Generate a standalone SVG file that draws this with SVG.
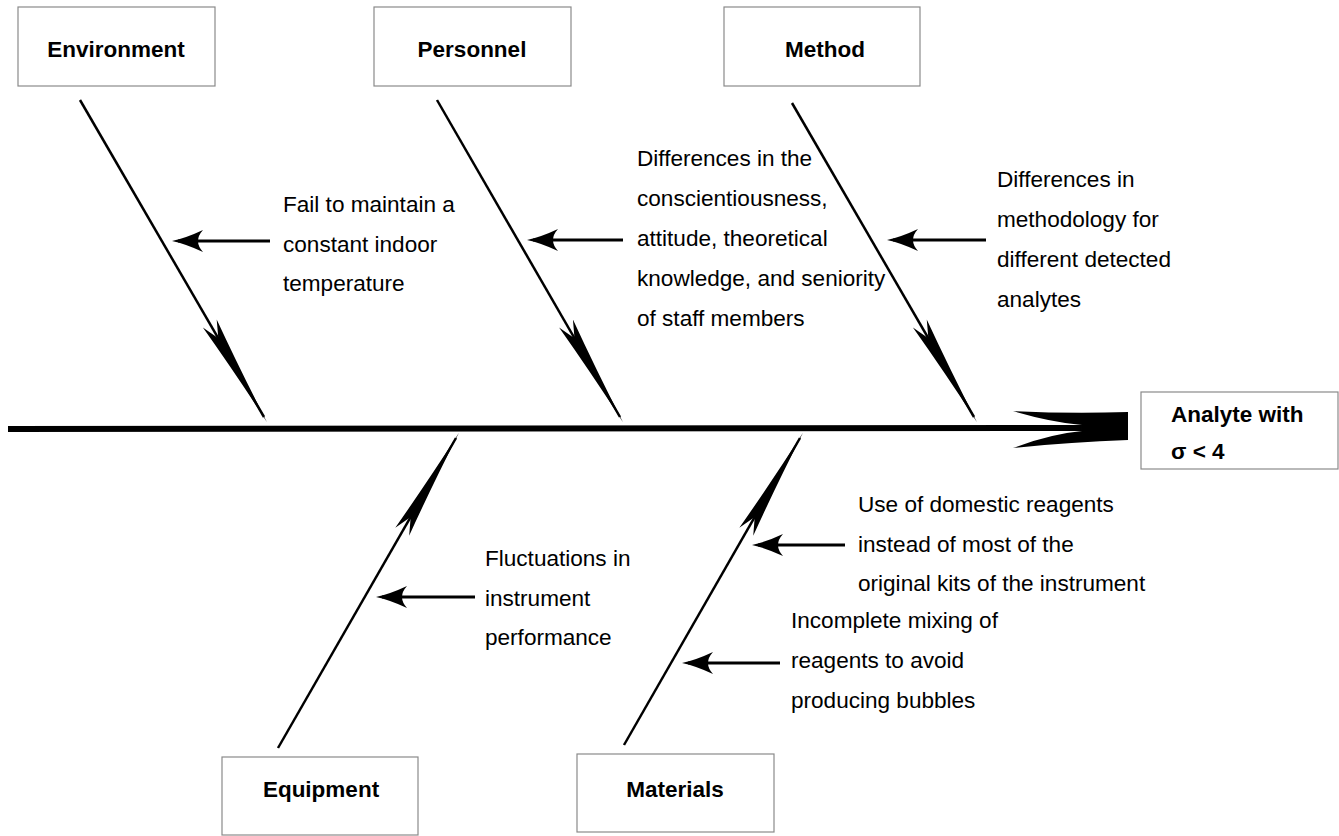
<svg xmlns="http://www.w3.org/2000/svg" width="1339" height="836" viewBox="0 0 1339 836">
<style>
.box{fill:#fff;stroke:#8a8a8a;stroke-width:1.2}
.lbl{font-family:"Liberation Sans",Arial,sans-serif;font-weight:bold;font-size:22.5px;fill:#000;text-anchor:middle}
.txt{font-family:"Liberation Sans",Arial,sans-serif;font-size:21.5px;fill:#000}
.bone{stroke:#000;stroke-width:2.5;fill:none;marker-end:url(#bh)}
.cause{stroke:#000;stroke-width:3;fill:none;marker-end:url(#ch)}
</style>
<defs>
<marker id="bh" markerUnits="userSpaceOnUse" viewBox="-120 -12 125 24" markerWidth="125" markerHeight="24" refX="-6" refY="0" orient="auto">
<path d="M0,0 Q-60,-3 -114,-8 L-97,0 L-114,8 Q-60,3 0,0 Z" fill="#000"/>
</marker>
<marker id="ch" markerUnits="userSpaceOnUse" viewBox="-34 -14 38 28" markerWidth="38" markerHeight="28" refX="-6" refY="0" orient="auto">
<path d="M0,0 Q-14,-3 -31,-11 Q-21,0 -31,11 Q-14,3 0,0 Z" fill="#000"/>
</marker>
</defs>
<rect width="1339" height="836" fill="#fff"/>

<g id="connectors">
<path d="M8,429 L1082,428" stroke="#000" stroke-width="6" fill="none"/>
<path d="M1013,411 Q1070,414 1128,412 L1128,440 Q1070,442 1013,448 Q1050,434 1082,431 L1082,425 Q1050,422 1013,411 Z" fill="#000"/>
<line class="bone" x1="80" y1="100" x2="264" y2="417"/>
<line class="bone" x1="437" y1="100" x2="620" y2="417"/>
<line class="bone" x1="792" y1="103" x2="974" y2="417"/>
<line class="bone" x1="278" y1="748" x2="456" y2="438"/>
<line class="bone" x1="624" y1="745" x2="800" y2="438"/>
<line class="cause" x1="270" y1="241" x2="178" y2="241"/>
<line class="cause" x1="623" y1="240" x2="533" y2="240"/>
<line class="cause" x1="986" y1="240" x2="893" y2="240"/>
<line class="cause" x1="475" y1="597" x2="382" y2="597"/>
<line class="cause" x1="845" y1="545" x2="758" y2="545"/>
<line class="cause" x1="780" y1="663" x2="688" y2="663"/>
</g>

<g id="environment">
<rect class="box" x="18" y="7" width="197" height="79"/>
<text class="lbl" x="116" y="57">Environment</text>
</g>
<g id="personnel">
<rect class="box" x="374" y="7" width="197" height="79"/>
<text class="lbl" x="472" y="57">Personnel</text>
</g>
<g id="method">
<rect class="box" x="724" y="7" width="196" height="79"/>
<text class="lbl" x="825" y="57">Method</text>
</g>
<g id="equipment">
<rect class="box" x="222" y="757" width="196" height="78"/>
<text class="lbl" x="321" y="797">Equipment</text>
</g>
<g id="materials">
<rect class="box" x="577" y="754" width="197" height="78"/>
<text class="lbl" x="675" y="797">Materials</text>
</g>
<g id="effect">
<rect class="box" x="1141" y="392" width="197" height="77"/>
<text class="lbl" x="1171" y="422" style="text-anchor:start">Analyte with</text>
<text class="lbl" x="1171" y="459" style="text-anchor:start">σ &lt; 4</text>
</g>

<g id="cause-environment" transform="translate(283 0) scale(1.05 1)">
<text class="txt" x="0" y="212">Fail to maintain a</text>
<text class="txt" x="0" y="252">constant indoor</text>
<text class="txt" x="0" y="291">temperature</text>
</g>
<g id="cause-personnel" transform="translate(637 0) scale(1.05 1)">
<text class="txt" x="0" y="166">Differences in the</text>
<text class="txt" x="0" y="206">conscientiousness,</text>
<text class="txt" x="0" y="246">attitude, theoretical</text>
<text class="txt" x="0" y="286">knowledge, and seniority</text>
<text class="txt" x="0" y="326">of staff members</text>
</g>
<g id="cause-method" transform="translate(997 0) scale(1.05 1)">
<text class="txt" x="0" y="187">Differences in</text>
<text class="txt" x="0" y="227">methodology for</text>
<text class="txt" x="0" y="267">different detected</text>
<text class="txt" x="0" y="307">analytes</text>
</g>
<g id="cause-equipment" transform="translate(485 0) scale(1.05 1)">
<text class="txt" x="0" y="566">Fluctuations in</text>
<text class="txt" x="0" y="606">instrument</text>
<text class="txt" x="0" y="645">performance</text>
</g>
<g id="cause-materials-1" transform="translate(858 0) scale(1.05 1)">
<text class="txt" x="0" y="512">Use of domestic reagents</text>
<text class="txt" x="0" y="552">instead of most of the</text>
<text class="txt" x="0" y="591">original kits of the instrument</text>
</g>
<g id="cause-materials-2" transform="translate(791 0) scale(1.05 1)">
<text class="txt" x="0" y="628">Incomplete mixing of</text>
<text class="txt" x="0" y="668">reagents to avoid</text>
<text class="txt" x="0" y="708">producing bubbles</text>
</g>
</svg>
